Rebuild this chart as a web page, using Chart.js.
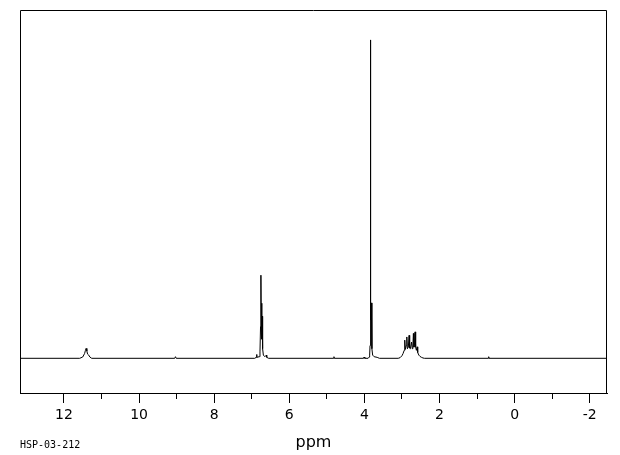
<!DOCTYPE html>
<html>
<head>
<meta charset="utf-8">
<script src="https://cdn.jsdelivr.net/npm/chart.js@4/dist/chart.umd.min.js"></script>
<style>
  body { margin: 0; background: #fff; }
  canvas { display: block; }
</style>
</head>
<body>
<canvas id="nmr" width="620" height="455"></canvas>
<script>
// spectrum: chemical shift (ppm) and relative intensity (tallest line = 100)
const shifts = [
  13.2, 11.58, 11.50, 11.45, 11.43, 11.41, 11.39, 11.37, 11.34, 11.31, 11.26,
  9.05, 9.03, 9.01,
  6.92, 6.88, 6.87, 6.86, 6.80, 6.78, 6.765, 6.755, 6.745, 6.735, 6.728, 6.72, 6.71, 6.69, 6.65, 6.61, 6.60, 6.55,
  4.82, 4.81, 4.80, 4.02, 4.01, 3.99,
  3.90, 3.87, 3.86, 3.85, 3.84, 3.83, 3.815, 3.80, 3.78, 3.74, 3.66, 3.60,
  3.10, 3.05, 3.00, 2.97, 2.94, 2.925, 2.91, 2.885, 2.87, 2.855, 2.83, 2.81, 2.795, 2.775, 2.745, 2.725,
  2.71, 2.695, 2.68, 2.665, 2.65, 2.635, 2.615, 2.595, 2.58, 2.55, 2.52, 2.48, 2.44, 2.40,
  0.70, 0.69, 0.68, -2.5
];
const intensity = [
  0, 0, 0.4, 1.5, 2.4, 3.1, 2.3, 1.3, 1.0, 0.4, 0,
  0, 0.5, 0,
  0, 0.3, 1.2, 0.3, 0.5, 2, 10, 26.1, 8, 17.3, 6, 13.2, 3, 1, 0.5, 1.0, 0.3, 0,
  0, 0.5, 0, 0, 0.4, 0,
  0, 0.4, 1, 4, 100, 12, 17.4, 3, 1, 0.5, 0.3, 0,
  0, 0.2, 0.8, 1.5, 2.5, 5.7, 2.8, 4, 6.7, 3, 3.5, 7.2, 3.2, 3, 5.1, 3,
  3.5, 7.8, 3.5, 4, 8.3, 3.5, 2.5, 3.6, 1.8, 1.0, 0.6, 0.3, 0.1, 0,
  0, 0.5, 0, 0
];
const xMin = -2.46, xMax = 13.17;
const yMin = -10.9, yMax = 109.4;
const tickLabels = [12, 10, 8, 6, 4, 2, 0, -2];
const axisTitle = 'ppm';
const sampleId = 'HSP-03-212';

const points = shifts.map((s, i) => ({ x: s, y: intensity[i] }));

const framePlugin = {
  id: 'frame',
  afterDraw(chart) {
    const { ctx, chartArea: a } = chart;
    ctx.save();
    ctx.strokeStyle = '#000';
    ctx.lineWidth = 1;
    ctx.beginPath();
    ctx.moveTo(a.left + 0.5, a.bottom);
    ctx.lineTo(a.left + 0.5, a.top + 0.5);
    ctx.lineTo(a.right - 0.5, a.top + 0.5);
    ctx.lineTo(a.right - 0.5, a.bottom);
    ctx.stroke();
    // sample code, bottom left
    ctx.fillStyle = '#000';
    ctx.font = '10px "DejaVu Sans Mono"';
    ctx.textBaseline = 'alphabetic';
    ctx.fillText(sampleId, a.left, 448);
    ctx.restore();
  }
};

new Chart(document.getElementById('nmr'), {
  type: 'line',
  data: {
    datasets: [{
      data: points,
      borderColor: '#000',
      borderWidth: 1,
      pointRadius: 0,
      tension: 0,
      fill: false
    }]
  },
  options: {
    responsive: false,
    animation: false,
    layout: { padding: { left: 20, right: 13, top: 10, bottom: 0 } },
    plugins: { legend: { display: false }, tooltip: { enabled: false } },
    scales: {
      x: {
        type: 'linear',
        reverse: true,
        min: xMin,
        max: xMax,
        afterFit(scale) { scale.height = 62; },
        border: { display: true, color: '#000', width: 1 },
        grid: {
          display: true,
          drawOnChartArea: false,
          drawTicks: true,
          tickLength: 10,
          tickColor: (c) => (c.tick && c.tick.value > 12.5 ? 'rgba(0,0,0,0)' : '#000'),
          tickBorderDash: (c) => (tickLabels.includes(c.tick && c.tick.value) ? [] : [5, 30])
        },
        ticks: {
          stepSize: 1,
          includeBounds: false,
          autoSkip: false,
          maxRotation: 0,
          padding: 4,
          color: '#000',
          font: { family: '"DejaVu Sans"', size: 14 },
          callback: (v) => (tickLabels.includes(v) ? String(v) : '')
        },
        title: {
          display: true,
          text: axisTitle,
          color: '#000',
          font: { family: '"DejaVu Sans"', size: 16 },
          padding: { top: 3, bottom: 3 }
        }
      },
      y: {
        display: false,
        min: yMin,
        max: yMax
      }
    }
  },
  plugins: [framePlugin]
});
</script>
</body>
</html>
